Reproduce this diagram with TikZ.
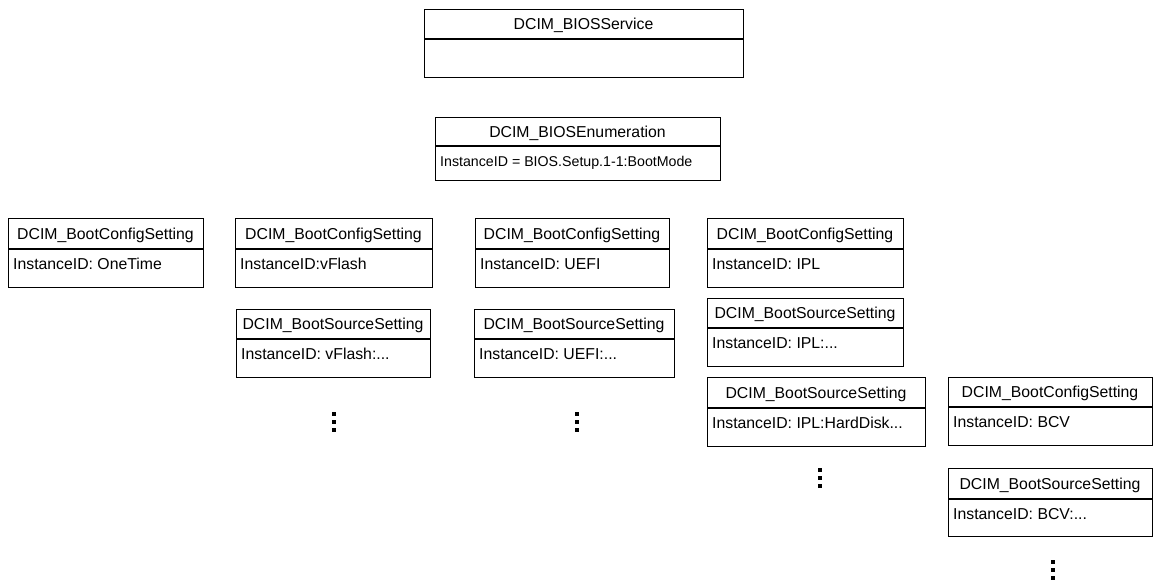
\documentclass[tikz,border=0pt]{standalone}
\usepackage{fontspec}
\setmainfont{Liberation Sans}
\tikzset{
  umlframe/.style={draw, line width=1.4pt, rectangle, inner sep=0pt, anchor=north west},
  umltitle/.style={anchor=base, inner sep=0pt, font=\fontsize{15.8}{18}\selectfont},
  umlbody/.style={anchor=base west, inner sep=0pt, font=\fontsize{15.8}{18}\selectfont},
  dotsq/.style={fill=black, rectangle, inner sep=0pt, minimum size=4pt}
}
% name, x1, y1, x2, y2, ydiv, title, body
\newcommand\umlbox[8]{%
  \node[umlframe, minimum width={(#4-#2)*1pt}, minimum height={(#5-#3)*1pt}] (#1) at (#2,#3) {};
  \draw[line width=1.4pt] (#1.west |- 0,#6) -- (#1.east |- 0,#6);
  \node[umltitle] (#1-t) at ({(#2+#4)/2},{(#3+#6)/2+5.6}) {#7};
  \node[umlbody] (#1-b) at ({#2+5},{#6+20}) {#8};
}
\newcommand\mydots[3]{%
  \node[dotsq] (#1-a) at (#2,{#3+2}) {};
  \node[dotsq] (#1-b) at (#2,{#3+10}) {};
  \node[dotsq] (#1-c) at (#2,{#3+18}) {};
}
\begin{document}
\begin{tikzpicture}[x=1pt,y=-1pt]
\useasboundingbox (0,0) rectangle (1165,582);
\umlbox{svc}{424}{9}{743}{77}{39}{DCIM\_BIOSService}{}
\umlbox{enum}{435}{117}{720}{180}{146}{DCIM\_BIOSEnumeration}{\fontsize{14.2}{16}\selectfont InstanceID = BIOS.Setup.1-1:BootMode}
\umlbox{c1}{8}{218}{203}{287}{249}{DCIM\_BootConfigSetting}{InstanceID: OneTime}
\umlbox{c2}{235}{218}{432}{287}{249}{DCIM\_BootConfigSetting}{InstanceID:vFlash}
\umlbox{s2}{236}{309}{430}{377}{339}{DCIM\_BootSourceSetting}{InstanceID: vFlash:...}
\umlbox{c3}{475}{218}{669}{287}{249}{DCIM\_BootConfigSetting}{InstanceID: UEFI}
\umlbox{s3}{474}{309}{674}{377}{339}{DCIM\_BootSourceSetting}{InstanceID: UEFI:...}
\umlbox{c4}{707}{218}{903}{287}{249}{DCIM\_BootConfigSetting}{InstanceID: IPL}
\umlbox{s4}{707}{298}{903}{366}{328}{DCIM\_BootSourceSetting}{InstanceID: IPL:...}
\umlbox{h4}{707}{377}{925}{446}{408}{DCIM\_BootSourceSetting}{InstanceID: IPL:HardDisk...}
\umlbox{c5}{948}{377}{1152}{445}{407}{DCIM\_BootConfigSetting}{InstanceID: BCV}
\umlbox{s5}{948}{468}{1152}{536}{499}{DCIM\_BootSourceSetting}{InstanceID: BCV:...}
\mydots{d2}{333.7}{411.7}
\mydots{d3}{576.7}{412}
\mydots{d4}{820}{468}
\mydots{d5}{1053.3}{560}
\end{tikzpicture}
\end{document}
